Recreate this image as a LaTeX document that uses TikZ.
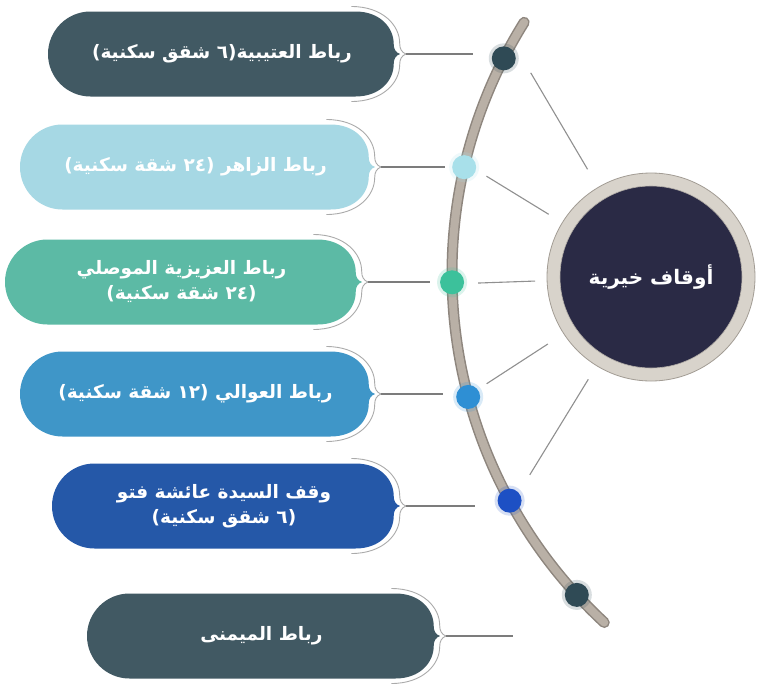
\documentclass[tikz,border=0pt]{standalone}
\usepackage{fontspec}
\newfontfamily\arabicfont[Script=Arabic]{DejaVu Sans}
\TeXXeTstate=1
\usetikzlibrary{calc}
\definecolor{slate}{HTML}{415963}
\definecolor{lblue}{HTML}{A6D8E4}
\definecolor{teal}{HTML}{5CBAA5}
\definecolor{mblue}{HTML}{3F96C8}
\definecolor{dblue}{HTML}{2558A8}
\definecolor{navy}{HTML}{2A2A45}
\definecolor{ringc}{HTML}{D8D3CB}
\definecolor{ringd}{HTML}{A29C94}
\definecolor{tubeo}{HTML}{8E867E}
\definecolor{tubei}{HTML}{B9B0A6}
\definecolor{dotA}{HTML}{2F4A55}
\definecolor{dotB}{HTML}{A8E0EA}
\definecolor{dotC}{HTML}{3CC19B}
\definecolor{dotD}{HTML}{2E8FD4}
\definecolor{dotE}{HTML}{1D50C4}
\definecolor{linec}{HTML}{7C7C7C}
\definecolor{outl}{HTML}{ABABAB}
\tikzset{
  connector/.style={draw=linec, line width=1.1pt},
  spoke/.style={draw=linec!85, line width=1.1pt},
  rimline/.style={draw=outl, line width=0.9pt},
  boxtext/.style={text=white, font=\arabicfont\bfseries\fontsize{18.5}{25}\selectfont, align=center},
  dotnode/.style={circle, minimum size=24pt, inner sep=0pt},
}
% #1 name, #2 left x, #3 tip x, #4 centre y, #5 colour, #6 text, #7 end of connector
\newcommand\wpill[7]{%
  \pgfmathsetmacro\pL{#2}%
  \pgfmathsetmacro\pC{#4}%
  \pgfmathsetmacro\pR{#3-44.6}%
  \fill[#5] (\pL+42.5,\pC-42.5) -- (\pR,\pC-42.5)
    .. controls (\pR+25.5,\pC-42.5) and (\pR+38.25,\pC-25.5) .. (\pR+38.25,\pC-10.6)
    .. controls (\pR+38.25,\pC-4.25) and (\pR+40.4,\pC-1.7) .. (\pR+44.6,\pC)
    .. controls (\pR+40.4,\pC+1.7) and (\pR+38.25,\pC+4.25) .. (\pR+38.25,\pC+10.6)
    .. controls (\pR+38.25,\pC+25.5) and (\pR+25.5,\pC+42.5) .. (\pR,\pC+42.5)
    -- (\pL+42.5,\pC+42.5)
    .. controls (\pL+19.03,\pC+42.5) and (\pL,\pC+23.47) .. (\pL,\pC)
    .. controls (\pL,\pC-23.47) and (\pL+19.03,\pC-42.5) .. cycle;
  \draw[rimline] (\pR-4,\pC-47.5)
    .. controls (\pR+28,\pC-47.5) and (\pR+44.25,\pC-28) .. (\pR+44.25,\pC-11)
    .. controls (\pR+44.25,\pC-4.5) and (\pR+46.5,\pC-1.7) .. (\pR+50.6,\pC)
    .. controls (\pR+46.5,\pC+1.7) and (\pR+44.25,\pC+4.5) .. (\pR+44.25,\pC+11)
    .. controls (\pR+44.25,\pC+28) and (\pR+28,\pC+47.5) .. (\pR-4,\pC+47.5);
  \coordinate (#1tip) at (\pR+50.6,\pC);
  \coordinate (#1end) at (#7,\pC);
  \node[boxtext] (#1) at ({(\pL+#3)/2-2},\pC) {#6};
  \draw[connector] (#1tip) -- (#1end);
}
\begin{document}
\begin{tikzpicture}[x=1pt,y=-1pt]
\useasboundingbox (0,0) rectangle (763,686);
\fill[white] (0,0) rectangle (763,686);

% boxes
\wpill{b1}{48}{400}{54}{slate}{\beginR رباط العتيبية(٦ شقق سكنية)\endR}{473}
\wpill{b2}{20}{375}{167}{lblue}{\beginR رباط الزاهر (٢٤ شقة سكنية)\endR}{445}
\wpill{b3}{5}{362}{282}{teal}{\beginR رباط العزيزية الموصلي\endR\\\beginR (٢٤ شقة سكنية)\endR}{430}
\wpill{b4}{20}{375}{394}{mblue}{\beginR رباط العوالي (١٢ شقة سكنية)\endR}{443}
\wpill{b5}{52}{400}{506}{dblue}{\beginR وقف السيدة عائشة فتو\endR\\\beginR (٦ شقق سكنية)\endR}{475}
\wpill{b6}{87}{440}{636}{slate}{\beginR رباط الميمنى\endR}{513}

% arc tube
\coordinate (ac) at (927,274);
\draw[tubeo, line width=11pt, line cap=round] ($(ac)+(212:475)$) arc[start angle=212, end angle=132.8, radius=475];
\draw[tubei, line width=8pt, line cap=round] ($(ac)+(212:475)$) arc[start angle=212, end angle=132.8, radius=475];

% dots
\foreach \n/\a/\c in {1/207/dotA,2/193/dotB,3/179/dotC,4/165/dotD,5/151.5/dotE,6/137.5/dotA}{
  \fill[\c, opacity=0.18] ($(ac)+(\a:475)$) circle[radius=15];
  \node[dotnode, fill=\c] (d\n) at ($(ac)+(\a:475)$) {};
}

% hub
\node[circle, fill=ringc, draw=ringd, line width=0.8pt, minimum size=208pt] (hubring) at (651,277) {};
\node[circle, fill=navy, draw=ringd!80, line width=0.6pt, minimum size=182pt, text=white,
  font=\arabicfont\bfseries\fontsize{20}{24}\selectfont] (hub) at (hubring) {\beginR أوقاف خيرية\endR};

% spokes
\foreach \n/\a/\ra/\rb in {1/239.5/125/237,2/211.5/120/193,3/178/116/173,4/147/123/196,5/121.5/120/232}{
  \coordinate (s\n a) at ($(hubring.center)+(\a:\ra)$);
  \coordinate (s\n b) at ($(hubring.center)+(\a:\rb)$);
  \draw[spoke] (s\n b) -- (s\n a);
}
\end{tikzpicture}
\end{document}
